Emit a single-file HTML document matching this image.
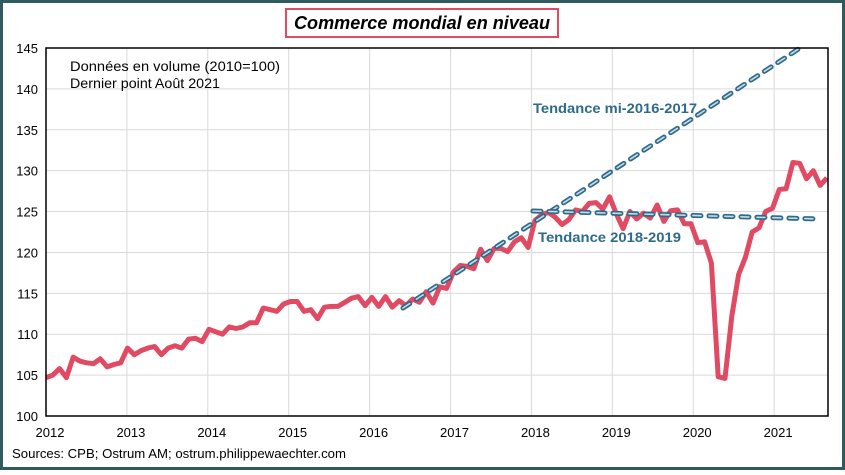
<!DOCTYPE html>
<html><head><meta charset="utf-8"><style>
html,body{margin:0;padding:0;background:#fff}
body{width:845px;height:470px;overflow:hidden;font-family:"Liberation Sans",sans-serif}
</style></head><body>
<svg id="s" width="845" height="470" xmlns="http://www.w3.org/2000/svg" font-family="Liberation Sans, sans-serif">
<rect x="1.5" y="1.5" width="842" height="467" fill="#fff" stroke="#2F5B5E" stroke-width="3"/>
<rect x="286" y="9" width="272" height="28" fill="#fff" stroke="#E04A63" stroke-width="2"/>
<text x="422" y="29" text-anchor="middle" font-size="18" font-weight="bold" font-style="italic" textLength="256" lengthAdjust="spacingAndGlyphs">Commerce mondial en niveau</text>
<g id="grid" stroke="#d9d9d9" stroke-width="1"></g>
<g id="ylab" font-size="13" fill="#000" text-anchor="end"></g>
<g id="xlab" font-size="13" fill="#000" text-anchor="middle"></g>
<text x="70" y="71" font-size="14" textLength="210" lengthAdjust="spacingAndGlyphs">Données en volume (2010=100)</text>
<text x="70" y="88" font-size="14" textLength="150" lengthAdjust="spacingAndGlyphs">Dernier point Août 2021</text>
<path id="data" fill="none" stroke="#E04A63" stroke-width="5" stroke-linejoin="round"/>
<g fill="none" stroke-dasharray="8,8" stroke-linecap="round">
<path d="M403,308 L800,48" stroke="#2E6B8A" stroke-width="5"/>
<path d="M403,308 L800,48" stroke="#c9dce6" stroke-width="1.6"/>
<path d="M533,211 L820,219" stroke="#2E6B8A" stroke-width="5"/>
<path d="M533,211 L820,219" stroke="#c9dce6" stroke-width="1.6"/>
</g>
<text x="533" y="113" font-size="14" font-weight="bold" fill="#2E6B8A" textLength="164" lengthAdjust="spacingAndGlyphs">Tendance mi-2016-2017</text>
<text x="538" y="242" font-size="14" font-weight="bold" fill="#2E6B8A" textLength="143" lengthAdjust="spacingAndGlyphs">Tendance 2018-2019</text>
<path d="M46,48 L828,48 L828,416 L46,416 Z" fill="none" stroke="#000" stroke-width="1.5"/>
<text x="12" y="458" font-size="13" textLength="334" lengthAdjust="spacingAndGlyphs">Sources: CPB; Ostrum AM; ostrum.philippewaechter.com</text>
</svg>
<script>
var ns="http://www.w3.org/2000/svg";
function Y(v){return 416-(v-100)*8.178;}
var g=document.getElementById('grid'),yl=document.getElementById('ylab'),xl=document.getElementById('xlab');
for(var v=100;v<=145;v+=5){var y=Y(v);
 if(v>100&&v<145){var l=document.createElementNS(ns,'line');l.setAttribute('x1',46);l.setAttribute('x2',828);l.setAttribute('y1',y);l.setAttribute('y2',y);g.appendChild(l);}
 var t=document.createElementNS(ns,'text');t.setAttribute('x',38);t.setAttribute('y',y+5);t.textContent=v;yl.appendChild(t);}
for(var k=0;k<10;k++){var x=46+k*80.9;
 if(k>0){var l=document.createElementNS(ns,'line');l.setAttribute('x1',x);l.setAttribute('x2',x);l.setAttribute('y1',48);l.setAttribute('y2',416);g.appendChild(l);}
 var t=document.createElementNS(ns,'text');t.setAttribute('x',x+4);t.setAttribute('y',437);t.textContent=2012+k;xl.appendChild(t);}
var d=[104.7,105.0,105.8,104.7,107.2,106.7,106.5,106.4,107.0,106.0,106.3,106.5,
108.3,107.5,108.0,108.3,108.5,107.5,108.3,108.6,108.3,109.4,109.5,109.1,
110.6,110.3,110.0,110.9,110.7,110.9,111.4,111.4,113.2,113.0,112.8,113.7,
114.0,114.0,112.8,113.0,111.9,113.3,113.4,113.4,113.9,114.4,114.6,113.5,
114.5,113.4,114.6,113.3,114.1,113.5,114.3,113.9,115.2,113.8,115.8,115.6,
117.6,118.4,118.3,118.0,120.4,119.0,120.5,120.5,120.1,121.3,121.8,120.6,
123.9,124.6,124.9,124.3,123.4,124.0,125.2,125.0,126.0,126.1,125.3,126.8,
124.7,122.9,125.0,124.1,124.8,124.2,125.8,123.8,125.1,125.2,123.5,123.5,
121.2,121.3,118.7,104.8,104.6,112.2,117.3,119.4,122.5,123.0,125.0,125.4,
127.7,127.8,131.0,130.9,129.0,130.0,128.2,129.1];
var p='';for(var i=0;i<d.length;i++){p+=(i?'L':'M')+(46+i*6.79).toFixed(1)+','+Y(d[i]).toFixed(1);}
document.getElementById('data').setAttribute('d',p);
</script>
</body></html>
